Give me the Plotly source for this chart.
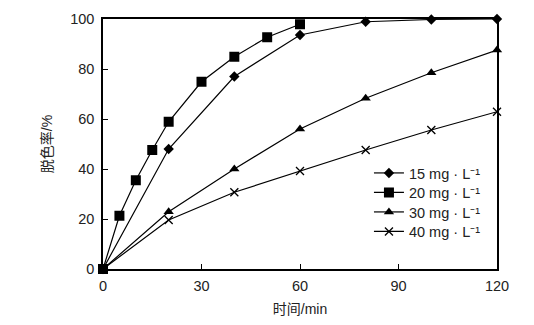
import plotly.graph_objects as go

time_15 = [0, 20, 40, 60, 80, 100, 120]
rate_15 = [0, 48, 77, 93.6, 98.9, 99.8, 100]
time_20 = [0, 5, 10, 15, 20, 30, 40, 50, 60]
rate_20 = [0, 21.3, 35.5, 47.6, 58.9, 74.9, 84.9, 92.7, 97.9]
time_30 = [0, 20, 40, 60, 80, 100, 120]
rate_30 = [0, 22.9, 40, 56, 68.3, 78.5, 87.6]
time_40 = [0, 20, 40, 60, 80, 100, 120]
rate_40 = [0, 19.6, 30.7, 39.2, 47.6, 55.6, 62.9]
names = ["15 mg · L⁻¹", "20 mg · L⁻¹", "30 mg · L⁻¹", "40 mg · L⁻¹"]
x_ticks = [0, 30, 60, 90, 120]
y_ticks = [0, 20, 40, 60, 80, 100]

FONT = "Liberation Sans, Arial, Noto Sans CJK SC"

series = [
    (time_15, rate_15, names[0], dict(symbol="diamond", size=8)),
    (time_20, rate_20, names[1], dict(symbol="square", size=10)),
    (time_30, rate_30, names[2], dict(symbol="triangle-up", size=9)),
    (time_40, rate_40, names[3], dict(symbol="x-thin-open", size=8,
                                      line=dict(width=1.3, color="black"))),
]
legend_ids = ["legend", "legend2", "legend3", "legend4"]
legend_y = [0.384, 0.306, 0.228, 0.150]

fig = go.Figure()
for (xs, ys, nm, mk), lid in zip(series, legend_ids):
    mk = dict(mk)
    mk["color"] = "black"
    fig.add_trace(go.Scatter(x=xs, y=ys, name=nm, mode="lines+markers",
                             line=dict(color="black", width=1.2),
                             marker=mk, cliponaxis=False, legend=lid))

axis_common = dict(showgrid=False, zeroline=False, showline=True,
                   linecolor="black", linewidth=1.5, mirror=True,
                   ticks="inside", ticklen=5, tickwidth=1.2, tickcolor="black",
                   automargin=False,
                   tickfont=dict(family=FONT, size=14.5, color="#222"))

fig.update_xaxes(range=[0, 120], tickvals=x_ticks, ticklabelstandoff=3, **axis_common,
                 title=dict(text="时间/min", font=dict(family=FONT, size=14, color="#222"),
                            standoff=11))
fig.update_yaxes(range=[0, 100], tickvals=y_ticks, ticklabelstandoff=4, **axis_common,
                 title=dict(text="脱色率/%", font=dict(family=FONT, size=14, color="#222"),
                            standoff=14))

legend_common = dict(x=0.675, xanchor="left", yanchor="middle",
                     bgcolor="rgba(0,0,0,0)", itemwidth=30,
                     font=dict(family=FONT, size=14.5, color="#222"))
layout_legends = {lid: dict(y=ly, **legend_common) for lid, ly in zip(legend_ids, legend_y)}

fig.update_layout(
    width=534, height=325,
    margin=dict(l=103, r=37, t=19, b=56),
    plot_bgcolor="white", paper_bgcolor="white",
    font=dict(family=FONT, size=14, color="#222"),
    showlegend=True,
    **layout_legends,
)

fig.write_html("out.html")
